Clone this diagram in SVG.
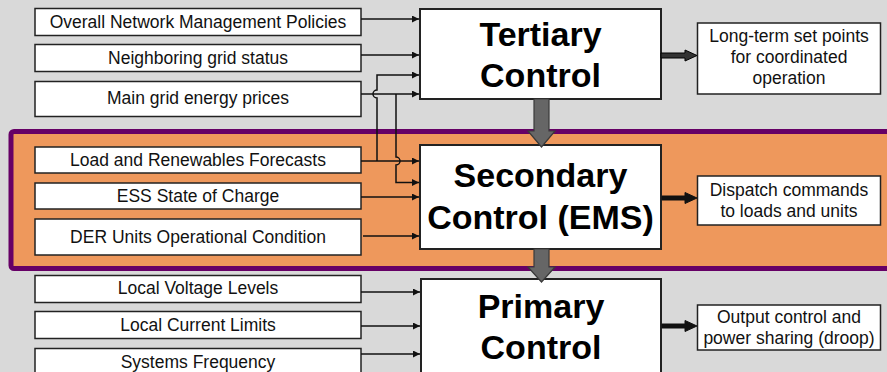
<svg xmlns="http://www.w3.org/2000/svg" width="887" height="372" viewBox="0 0 887 372">
  <defs>
    <style>
      .bg { fill: #d9d9d9; }
      .band { fill: #ee985c; stroke: #660066; stroke-width: 5; }
      .inbox { fill: #ffffff; stroke: #222222; stroke-width: 1.5; }
      .main { fill: #ffffff; stroke: #222222; stroke-width: 2; }
      .outbox { fill: #ffffff; stroke: #222222; stroke-width: 1.5; }
      .lbl { font-family: "Liberation Sans", Arial, sans-serif; font-size: 17.5px; fill: #111111; text-anchor: middle; }
      .title { font-family: "Liberation Sans", Arial, sans-serif; font-size: 34px; font-weight: bold; fill: #000000; text-anchor: middle; }
      .wire { fill: none; stroke: #111111; stroke-width: 1.5; }
      .flow { fill: #666666; stroke: #3a3a3a; stroke-width: 1.2; }
      .out { fill: #111111; stroke: #111111; stroke-width: 1; }
      .outgray { fill: #333333; stroke: #000000; stroke-width: 1; }
    </style>
    <marker id="tip" viewBox="0 0 10 10" refX="10" refY="5" markerWidth="8" markerHeight="7" markerUnits="userSpaceOnUse" orient="auto">
      <path d="M0,0 L10,5 L0,10 z" fill="#111111"/>
    </marker>
  </defs>

  <rect class="bg" x="0" y="0" width="887" height="372"/>

  <!-- secondary control layer band -->
  <rect class="band" x="11" y="131.5" width="900" height="137" rx="3"/>

  <!-- tertiary layer inputs -->
  <g id="in-policies">
    <rect class="inbox" x="35" y="8.5" width="326" height="27"/>
    <text class="lbl" x="198" y="28">Overall Network Management Policies</text>
  </g>
  <g id="in-neighbor">
    <rect class="inbox" x="35" y="44.5" width="326" height="27"/>
    <text class="lbl" x="198" y="64">Neighboring grid status</text>
  </g>
  <g id="in-prices">
    <rect class="inbox" x="35" y="81.5" width="326" height="35"/>
    <text class="lbl" x="198" y="104">Main grid energy prices</text>
  </g>

  <!-- secondary layer inputs -->
  <g id="in-forecasts">
    <rect class="inbox" x="35" y="147" width="326" height="26"/>
    <text class="lbl" x="198" y="166">Load and Renewables Forecasts</text>
  </g>
  <g id="in-soc">
    <rect class="inbox" x="35" y="183" width="326" height="26"/>
    <text class="lbl" x="198" y="202">ESS State of Charge</text>
  </g>
  <g id="in-der">
    <rect class="inbox" x="35" y="219" width="326" height="36"/>
    <text class="lbl" x="198" y="243">DER Units Operational Condition</text>
  </g>

  <!-- primary layer inputs -->
  <g id="in-voltage">
    <rect class="inbox" x="35" y="275.5" width="326" height="27"/>
    <text class="lbl" x="198" y="294">Local Voltage Levels</text>
  </g>
  <g id="in-current">
    <rect class="inbox" x="35" y="311.5" width="326" height="27"/>
    <text class="lbl" x="198" y="331">Local Current Limits</text>
  </g>
  <g id="in-frequency">
    <rect class="inbox" x="35" y="348.5" width="326" height="30"/>
    <text class="lbl" x="198" y="368">Systems Frequency</text>
  </g>

  <!-- control levels -->
  <g id="tertiary">
    <rect class="main" x="420" y="9" width="241" height="90"/>
    <text class="title" x="540.5" y="46">Tertiary</text>
    <text class="title" x="540.5" y="87">Control</text>
  </g>
  <g id="secondary">
    <rect class="main" x="420" y="145" width="241" height="104"/>
    <text class="title" x="540.5" y="187">Secondary</text>
    <text class="title" x="540.5" y="229">Control (EMS)</text>
  </g>
  <g id="primary">
    <rect class="main" x="421" y="279" width="240" height="100"/>
    <text class="title" x="541" y="318">Primary</text>
    <text class="title" x="541" y="359">Control</text>
  </g>

  <!-- outputs -->
  <g id="out-setpoints">
    <rect class="outbox" x="697.5" y="23" width="183" height="71"/>
    <text class="lbl" x="789" y="42">Long-term set points</text>
    <text class="lbl" x="789" y="63">for coordinated</text>
    <text class="lbl" x="789" y="84">operation</text>
  </g>
  <g id="out-dispatch">
    <rect class="outbox" x="697.5" y="176" width="183" height="49"/>
    <text class="lbl" x="789" y="196">Dispatch commands</text>
    <text class="lbl" x="789" y="217">to loads and units</text>
  </g>
  <g id="out-droop">
    <rect class="outbox" x="697.5" y="305" width="183" height="45"/>
    <text class="lbl" x="789" y="323">Output control and</text>
    <text class="lbl" x="789" y="344">power sharing (droop)</text>
  </g>

  <g id="connectors">
    <!-- inputs into tertiary control -->
    <path class="wire" d="M361,19 H419" marker-end="url(#tip)"/>
    <path class="wire" d="M361,55 H419" marker-end="url(#tip)"/>
    <path class="wire" d="M361,94 H419" marker-end="url(#tip)"/>
    <!-- forecasts also feed tertiary, hopping over the price line -->
    <path class="wire" d="M377,161 V98 A4,4 0 0 1 377,90 V75 H419" marker-end="url(#tip)"/>
    <!-- prices also feed secondary, hopping over the forecast line -->
    <path class="wire" d="M396,94 V157 A4,4 0 0 1 396,165 V182.5 H419" marker-end="url(#tip)"/>

    <!-- inputs into secondary control -->
    <path class="wire" d="M361,161 H419" marker-end="url(#tip)"/>
    <path class="wire" d="M361,197 H419" marker-end="url(#tip)"/>
    <path class="wire" d="M363,236 H419" marker-end="url(#tip)"/>

    <!-- inputs into primary control -->
    <path class="wire" d="M361,292 H420" marker-end="url(#tip)"/>
    <path class="wire" d="M361,326 H420" marker-end="url(#tip)"/>
    <path class="wire" d="M361,354 H420" marker-end="url(#tip)"/>

    <!-- level to level flow -->
    <polygon class="flow" points="534,99 549,99 549,131 555,131 541.5,147 528,131 534,131"/>
    <polygon class="flow" points="534,249 549,249 549,267 555,267 541.5,282 528,267 534,267"/>

    <!-- level outputs -->
    <polygon class="outgray" points="661,53 685,53 685,50 697,55.5 685,61 685,58 661,58"/>
    <polygon class="out" points="662,196 685,196 685,192.5 697,198 685,203.5 685,200 662,200"/>
    <polygon class="out" points="662,324 685,324 685,320.5 697,326 685,331.5 685,328 662,328"/>
  </g>
</svg>
